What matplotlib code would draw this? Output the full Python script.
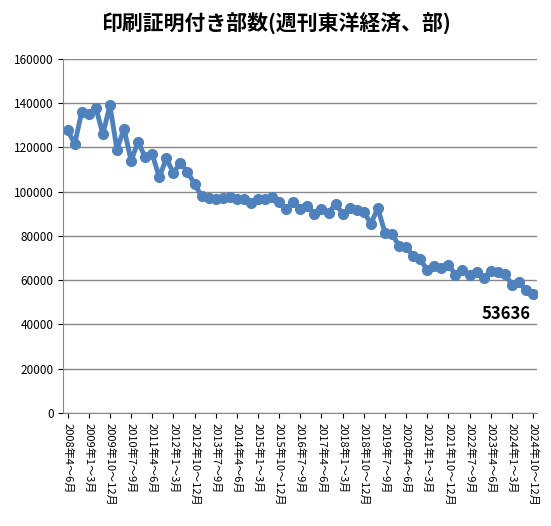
import matplotlib
matplotlib.use("Agg")
from matplotlib import pyplot as plt

plt.rcParams['font.family'] = ['Noto Sans CJK JP', 'DejaVu Sans']

values = [128000, 121500, 136000, 135000, 138000, 126000, 139000, 119000, 128500, 114000,
          122500, 115500, 117000, 106500, 115000, 108500, 113000, 109000, 103500, 98000,
          97000, 96500, 97000, 97500, 96500, 96500, 95000, 96500, 96500, 97500,
          95500, 92000, 95500, 92000, 93500, 90000, 92000, 90500, 94500, 90000,
          92500, 91500, 91000, 85500, 92500, 81500, 81000, 75500, 75000, 71000,
          69500, 64500, 66500, 65500, 67000, 62500, 64500, 62500, 63500, 61000,
          64000, 63500, 63000, 58000, 59000, 55500, 53636]

quarters = ['1～3月', '4～6月', '7～9月', '10～12月']
labels = []
for i in range(len(values)):
    q = i + 1  # start at 2008 Q2
    labels.append(f"{2008 + q // 4}年{quarters[q % 4]}")

x = list(range(len(values)))

fig, ax = plt.subplots(figsize=(5.51, 5.26), dpi=100)
fig.subplots_adjust(left=0.115, right=0.975, top=0.888, bottom=0.215)

ax.plot(x, values, color='#4f81bd', lw=3.5, marker='o', ms=7)
ax.set_ylim(0, 160000)
ax.set_yticks(range(0, 160001, 20000))
ax.set_xlim(-0.6, len(values) - 0.4)
ax.set_xticks(x[::3])
ax.set_xticklabels(labels[::3], rotation=270, fontsize=8)
ax.tick_params(axis='y', labelsize=8.5)
ax.grid(axis='y', color='#888888', lw=1)
ax.set_axisbelow(True)
for s in ['top', 'right']:
    ax.spines[s].set_visible(False)
ax.spines['left'].set_color('#888888')
ax.spines['bottom'].set_color('#888888')

ax.annotate(f"{values[-1]}", (x[-1], values[-1]), xytext=(-2, -18),
            textcoords='offset points', ha='right', fontsize=12, fontweight='bold')

fig.text(0.5, 0.955, '印刷証明付き部数(週刊東洋経済、部)', ha='center', va='center',
         fontsize=15, fontweight='bold')

plt.savefig('out.png')
